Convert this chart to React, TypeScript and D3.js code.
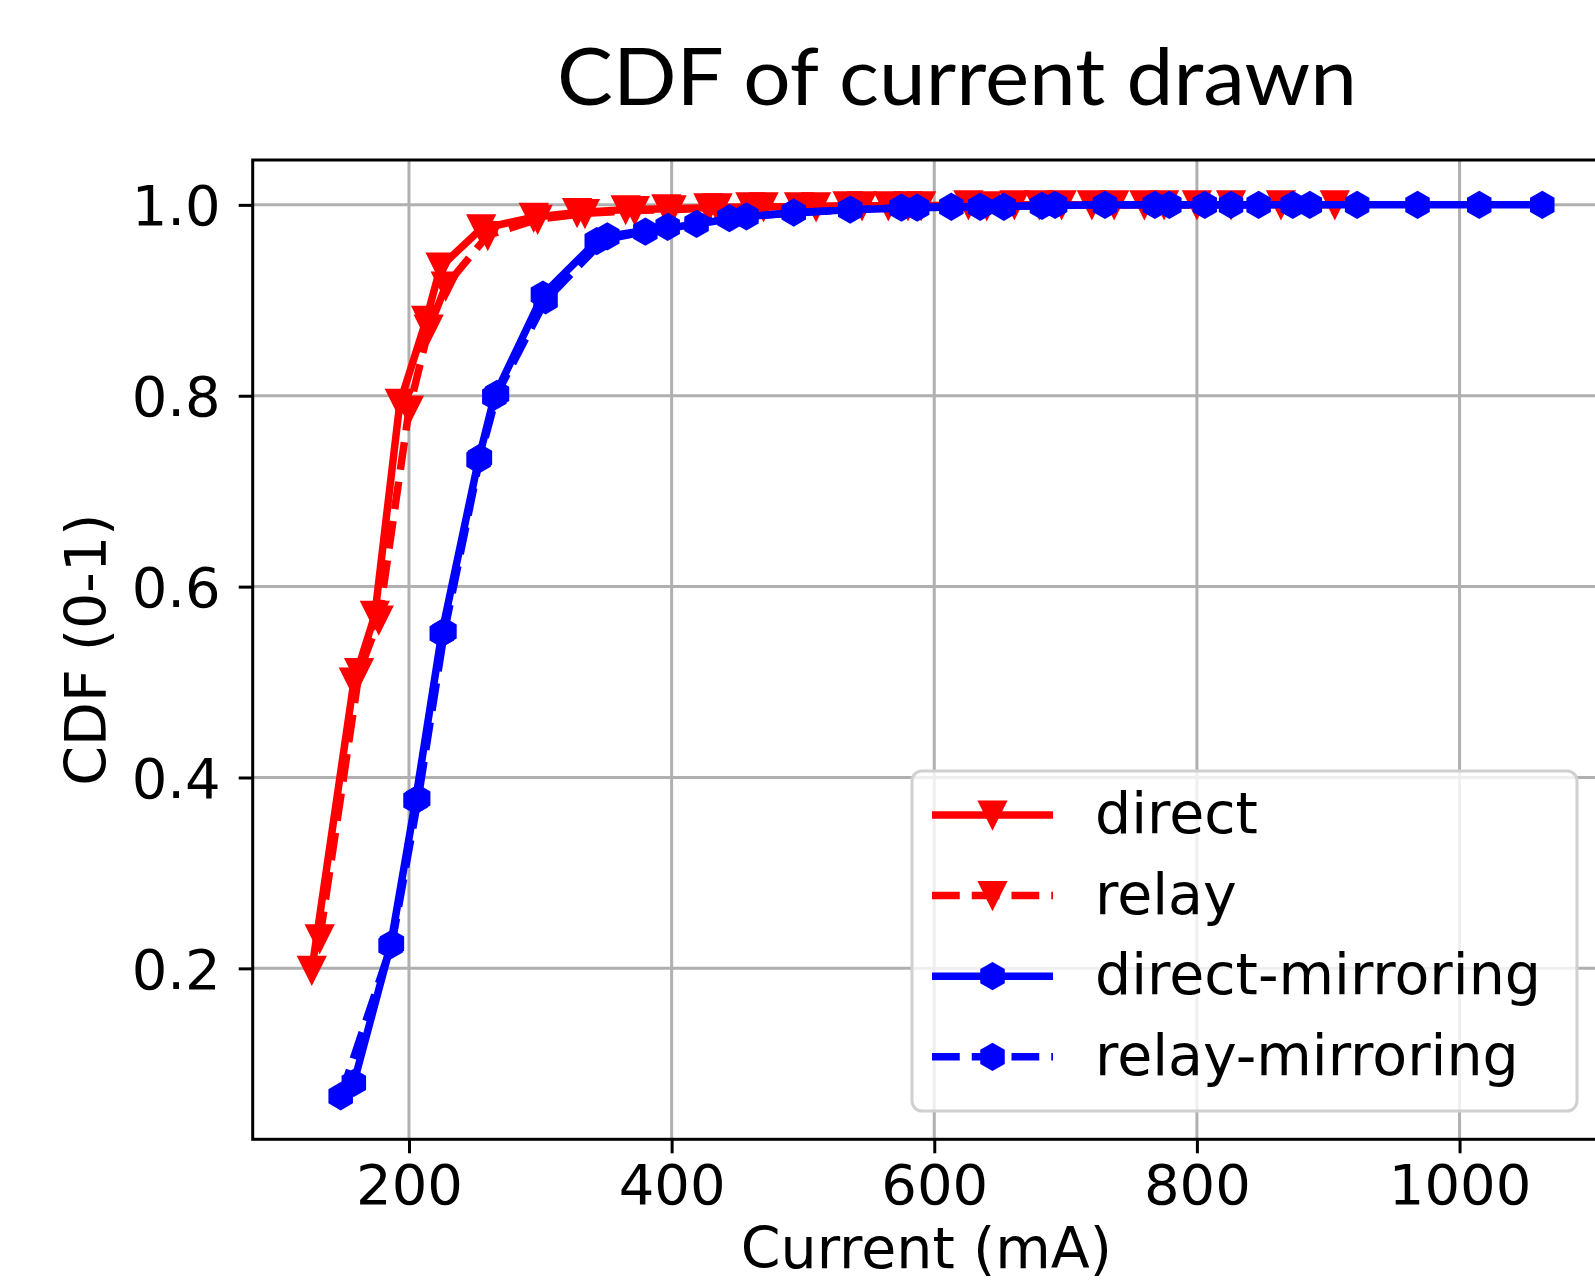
import React, { useEffect, useRef } from 'react';
import * as d3 from 'd3';

// CDF samples (current in mA, cumulative fraction)
const directX = [126, 158, 174, 193, 213, 224, 255, 295, 328, 365, 396, 428, 460, 497, 534, 565, 590, 626, 661, 697, 737, 775, 826];
const directY = [0.198, 0.5, 0.57, 0.792, 0.879, 0.935, 0.975, 0.987, 0.992, 0.995, 0.996, 0.997, 0.998, 0.998, 0.999, 0.999, 0.999, 1, 1, 1, 1, 1, 1];

const relayX = [132, 162, 177, 200, 215, 228, 260, 298, 334, 372, 400, 435, 470, 510, 545, 580, 640, 680, 720, 760, 800, 864, 905];
const relayY = [0.231, 0.51, 0.565, 0.785, 0.87, 0.915, 0.968, 0.985, 0.991, 0.994, 0.995, 0.997, 0.998, 0.998, 0.999, 0.999, 0.999, 1, 1, 1, 1, 1, 1];

const directMirrorX = [158, 186, 205, 225, 253, 265, 302, 343, 380, 419, 457, 536, 587, 635, 682, 730, 779, 826, 873, 922, 968, 1015, 1063];
const directMirrorY = [0.08, 0.224, 0.376, 0.551, 0.733, 0.799, 0.906, 0.962, 0.972, 0.98, 0.988, 0.995, 0.997, 0.998, 0.999, 1, 1, 1, 1, 1, 1, 1, 1];

const relayMirrorX = [148, 187, 207, 227, 254, 267, 304, 351, 397, 444, 493, 575, 613, 653, 692, 768, 806, 847, 886];
const relayMirrorY = [0.066, 0.226, 0.378, 0.553, 0.735, 0.802, 0.9, 0.967, 0.977, 0.986, 0.992, 0.997, 0.998, 0.998, 1, 1, 1, 1, 1];

const xTicks = [200, 400, 600, 800, 1000];
const yTicks = [0.2, 0.4, 0.6, 0.8, 1.0];

const seriesNames = ['direct', 'relay', 'direct-mirroring', 'relay-mirroring'];

const W = 1595;
const H = 1284;
const plot = { left: 252.7, right: 1604, top: 160, bottom: 1139.3 };
const FONT = 'DejaVu Sans';
const LW = 7.5;
const DASH = `${LW * 3.7},${LW * 1.6}`;

const triDown = (s: number) => `M${-s / 2},${-s / 2}L${s / 2},${-s / 2}L0,${s / 2}Z`;
const hexagon = (s: number) => {
  const r = s / 2;
  const pts = d3.range(6).map((i) => {
    const a = (Math.PI / 3) * i;
    return [r * Math.sin(a), -r * Math.cos(a)];
  });
  return 'M' + pts.map((p) => p.join(',')).join('L') + 'Z';
};

export default function App() {
  const svgRef = useRef<SVGSVGElement>(null);

  useEffect(() => {
    const svg = d3.select(svgRef.current);
    svg.selectAll('*').remove();

    const x = d3.scaleLinear().domain([81, 1110]).range([plot.left, plot.right]);
    const y = d3.scaleLinear().domain([0.0209, 1.047]).range([plot.bottom, plot.top]);

    const series = [
      { name: seriesNames[0], xs: directX, ys: directY, color: '#ff0000', dashed: false, marker: triDown(27) },
      { name: seriesNames[1], xs: relayX, ys: relayY, color: '#ff0000', dashed: true, marker: triDown(27) },
      { name: seriesNames[2], xs: directMirrorX, ys: directMirrorY, color: '#0000ff', dashed: false, marker: hexagon(26) },
      { name: seriesNames[3], xs: relayMirrorX, ys: relayMirrorY, color: '#0000ff', dashed: true, marker: hexagon(26) },
    ];

    svg.append('rect').attr('width', W).attr('height', H).attr('fill', '#fff');

    // grid
    const grid = svg.append('g');
    grid.selectAll('line.gx').data(xTicks).join('line')
      .attr('x1', (d) => x(d)).attr('x2', (d) => x(d))
      .attr('y1', plot.top).attr('y2', plot.bottom)
      .attr('stroke', '#b0b0b0').attr('stroke-width', 3);
    grid.selectAll('line.gy').data(yTicks).join('line')
      .attr('x1', plot.left).attr('x2', plot.right)
      .attr('y1', (d) => y(d)).attr('y2', (d) => y(d))
      .attr('stroke', '#b0b0b0').attr('stroke-width', 3);

    // series: line first, then its markers on top
    series.forEach((s) => {
      const pts = s.xs.map((v, i) => [x(v), y(s.ys[i])] as [number, number]);
      const g = svg.append('g');
      g.append('path')
        .attr('d', d3.line()(pts))
        .attr('fill', 'none')
        .attr('stroke', s.color)
        .attr('stroke-width', LW)
        .attr('stroke-linejoin', 'round')
        .attr('stroke-dasharray', s.dashed ? DASH : null);
      g.selectAll('path.m').data(pts).join('path')
        .attr('class', 'm')
        .attr('d', s.marker)
        .attr('transform', (p) => `translate(${p[0]},${p[1]})`)
        .attr('fill', s.color)
        .attr('stroke', s.color)
        .attr('stroke-width', 2);
    });

    // spines
    svg.append('rect')
      .attr('x', plot.left).attr('y', plot.top)
      .attr('width', plot.right - plot.left).attr('height', plot.bottom - plot.top)
      .attr('fill', 'none').attr('stroke', '#000').attr('stroke-width', 3);

    // axes
    const xAxis = svg.append('g')
      .attr('transform', `translate(0,${plot.bottom})`)
      .call(d3.axisBottom(x).tickValues(xTicks).tickSize(14).tickFormat(d3.format('d')));
    xAxis.select('.domain').remove();
    xAxis.selectAll('line').attr('stroke', '#000').attr('stroke-width', 3);
    xAxis.selectAll('text')
      .attr('y', 65).attr('dy', 0)
      .attr('fill', '#000').attr('font-size', 56).attr('font-family', FONT);

    const yAxis = svg.append('g')
      .attr('transform', `translate(${plot.left},0)`)
      .call(d3.axisLeft(y).tickValues(yTicks).tickSize(14).tickFormat((d) => (d as number).toFixed(1)));
    yAxis.select('.domain').remove();
    yAxis.selectAll('line').attr('stroke', '#000').attr('stroke-width', 3);
    yAxis.selectAll('text')
      .attr('x', -32).attr('dy', 0).attr('y', 20)
      .attr('fill', '#000').attr('font-size', 56).attr('font-family', FONT);

    // axis labels
    svg.append('text')
      .attr('x', (plot.left + plot.right) / 2 - 2).attr('y', 1268)
      .attr('text-anchor', 'middle')
      .attr('font-size', 57).attr('font-family', FONT).attr('fill', '#000')
      .text('Current (mA)');
    svg.append('text')
      .attr('transform', `translate(106,${(plot.top + plot.bottom) / 2}) rotate(-90)`)
      .attr('text-anchor', 'middle')
      .attr('font-size', 57).attr('font-family', FONT).attr('fill', '#000')
      .text('CDF (0-1)');

    // title
    svg.append('text')
      .attr('x', 557).attr('y', 105)
      .attr('font-size', 80).attr('font-family', 'Lato, sans-serif').attr('fill', '#000')
      .attr('textLength', 800).attr('lengthAdjust', 'spacingAndGlyphs')
      .text('CDF of current drawn');

    // legend
    const lg = svg.append('g');
    lg.append('rect')
      .attr('x', 912).attr('y', 771).attr('width', 665).attr('height', 340)
      .attr('rx', 10)
      .attr('fill', '#fff').attr('fill-opacity', 0.8)
      .attr('stroke', '#d0d0d0').attr('stroke-width', 3);
    series.forEach((s, i) => {
      const cy = 815 + i * 80.6;
      lg.append('line')
        .attr('x1', 932).attr('x2', 1053).attr('y1', cy).attr('y2', cy)
        .attr('stroke', s.color).attr('stroke-width', LW)
        .attr('stroke-dasharray', s.dashed ? DASH : null);
      lg.append('path')
        .attr('d', s.marker)
        .attr('transform', `translate(992.5,${cy})`)
        .attr('fill', s.color).attr('stroke', s.color).attr('stroke-width', 2);
      lg.append('text')
        .attr('x', 1095).attr('y', cy + 18)
        .attr('font-size', 57).attr('font-family', FONT).attr('fill', '#000')
        .text(s.name);
    });
  }, []);

  return (
    <svg
      ref={svgRef}
      width={W}
      height={H}
      style={{ position: 'absolute', left: 0, top: 0, display: 'block' }}
    />
  );
}
